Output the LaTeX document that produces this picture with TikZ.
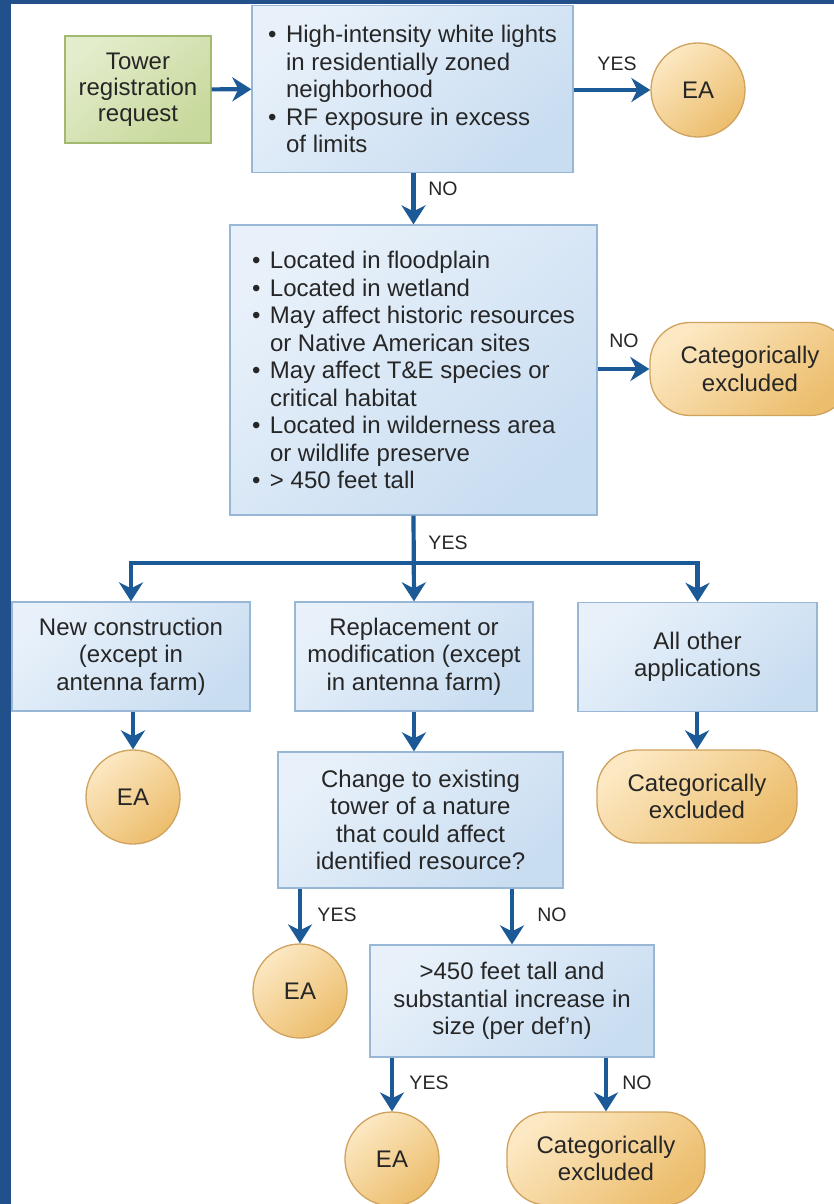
\documentclass[tikz,border=0pt]{standalone}
\usepackage{fontspec}
\setmainfont{Liberation Sans}
\usetikzlibrary{arrows.meta,calc}

\definecolor{frameblue}{HTML}{21508A}
\definecolor{arrowblue}{HTML}{1B5A97}
\definecolor{txt}{HTML}{262626}
\definecolor{blueA}{HTML}{E8F1FA}
\definecolor{blueB}{HTML}{C9DDF1}
\definecolor{blueEdge}{HTML}{98B7D6}
\definecolor{greenA}{HTML}{E3ECCB}
\definecolor{greenB}{HTML}{C7D99C}
\definecolor{greenEdge}{HTML}{A3B96F}
\definecolor{orangeA}{HTML}{FCE8C2}
\definecolor{orangeB}{HTML}{ECBD6C}
\definecolor{orangeEdge}{HTML}{CFA25E}

% bullet and hanging indent for the criteria lists
\newcommand\bul{\makebox[18pt][l]{\textbullet}}
\newcommand\ind{\hspace*{18pt}}

\tikzset{
  base/.style={font=\fontsize{24}{27.5}\selectfont, text=txt, align=center,
               inner sep=0pt, line width=1.3pt},
  qbox/.style={base, rectangle, draw=blueEdge, top color=blueA, bottom color=blueB,
               shading angle=40},
  startbox/.style={base, rectangle, draw=greenEdge, top color=greenA, bottom color=greenB,
               shading angle=40},
  ea/.style={base, circle, minimum size=94pt, draw=orangeEdge,
               top color=orangeA, bottom color=orangeB, shading angle=40},
  cat/.style={base, rectangle, rounded corners=40pt, minimum width=200pt, minimum height=93pt,
               draw=orangeEdge, top color=orangeA, bottom color=orangeB, shading angle=40},
  flow/.style={draw=arrowblue, line width=4.2pt,
               -{Stealth[width=24pt,length=19pt,inset=6pt]}},
  lbl/.style={font=\fontsize{19.5}{20}\selectfont, text=txt, inner sep=0pt}
}

\begin{document}
\begin{tikzpicture}[x=1pt, y=-1pt]
  \useasboundingbox (0,0) rectangle (834,1204);
  \fill[white] (0,0) rectangle (834,1204);

  % outer frame strips
  \fill[frameblue] (0,0) rectangle (11,1204);
  \fill[frameblue] (0,0) rectangle (834,4);

  % nodes
  \node[startbox, minimum width=146pt, minimum height=107pt,
        font=\fontsize{24}{26}\selectfont] (tower) at (138,89.5)
    {Tower\\registration\\request};
  \node[qbox, minimum width=321pt, minimum height=167pt, align=left] (lights) at (412.5,89)
    {\bul High-intensity white lights\\
     \ind in residentially zoned\\
     \ind neighborhood\\
     \bul RF exposure in excess\\
     \ind of limits};
  \node[ea] (ea1) at (698,90) {EA};

  \node[qbox, minimum width=367pt, minimum height=290pt, align=left] (crit) at (413.5,370)
    {\bul Located in floodplain\\
     \bul Located in wetland\\
     \bul May affect historic resources\\
     \ind or Native American sites\\
     \bul May affect T\&E species or\\
     \ind critical habitat\\
     \bul Located in wilderness area\\
     \ind or wildlife preserve\\
     \bul > 450 feet tall};
  \node[cat] (cat1) at (750,369) {Categorically\\excluded};

  \node[qbox, minimum width=238pt, minimum height=109pt] (newc) at (131,656.5)
    {New construction\\(except in\\antenna farm)};
  \node[qbox, minimum width=238pt, minimum height=109pt] (repl) at (414,656.5)
    {Replacement or\\modification (except\\in antenna farm)};
  \node[qbox, minimum width=239pt, minimum height=109pt] (other) at (697.5,657)
    {All other\\applications};

  \node[ea] (ea2) at (133,797) {EA};
  \node[qbox, minimum width=285pt, minimum height=136pt] (change) at (420.5,820)
    {Change to existing\\tower of a nature\\that could affect\\identified resource?};
  \node[cat] (cat2) at (697,796.5) {Categorically\\excluded};

  \node[ea] (ea3) at (300,991) {EA};
  \node[qbox, minimum width=284pt, minimum height=112pt] (tall) at (512,1001)
    {>450 feet tall and\\substantial increase in\\size (per def’n)};

  \node[ea] (ea4) at (392,1159) {EA};
  \node[cat, minimum width=198pt] (cat3) at (606,1158.5) {Categorically\\excluded};

  % connectors
  \draw[flow] (tower) -- (lights);
  \draw[flow] (lights.east |- ea1) -- (ea1);
  \draw[flow] (lights.south -| crit.south) -- (crit.north);
  \draw[flow] (crit.east |- cat1) -- (cat1.west);

  \coordinate (split) at (crit.south |- 0,563);
  \draw[flow] (crit.south) -- (repl.north);
  \draw[flow] (split) -| (newc.north);
  \draw[flow] (split) -| (other.north);

  \draw[flow] (newc.south -| ea2) -- (ea2);
  \draw[flow] (repl.south) -- (repl.south |- change.north);
  \draw[flow] (other.south -| cat2) -- (cat2.north);

  \draw[flow] (change.south -| ea3) -- (ea3);
  \draw[flow] (change.south -| tall) -- (tall.north);

  \draw[flow] (tall.south -| ea4) -- (ea4);
  \draw[flow] (tall.south -| cat3) -- (cat3.north);

  % branch labels
  \node[lbl] (l1) at (617,64) {YES};
  \node[lbl] (l2) at (443,189) {NO};
  \node[lbl] (l3) at (624,341) {NO};
  \node[lbl] (l4) at (448,543) {YES};
  \node[lbl] (l5) at (337,915) {YES};
  \node[lbl] (l6) at (552,915) {NO};
  \node[lbl] (l7) at (429,1083) {YES};
  \node[lbl] (l8) at (637,1083) {NO};
\end{tikzpicture}
\end{document}
